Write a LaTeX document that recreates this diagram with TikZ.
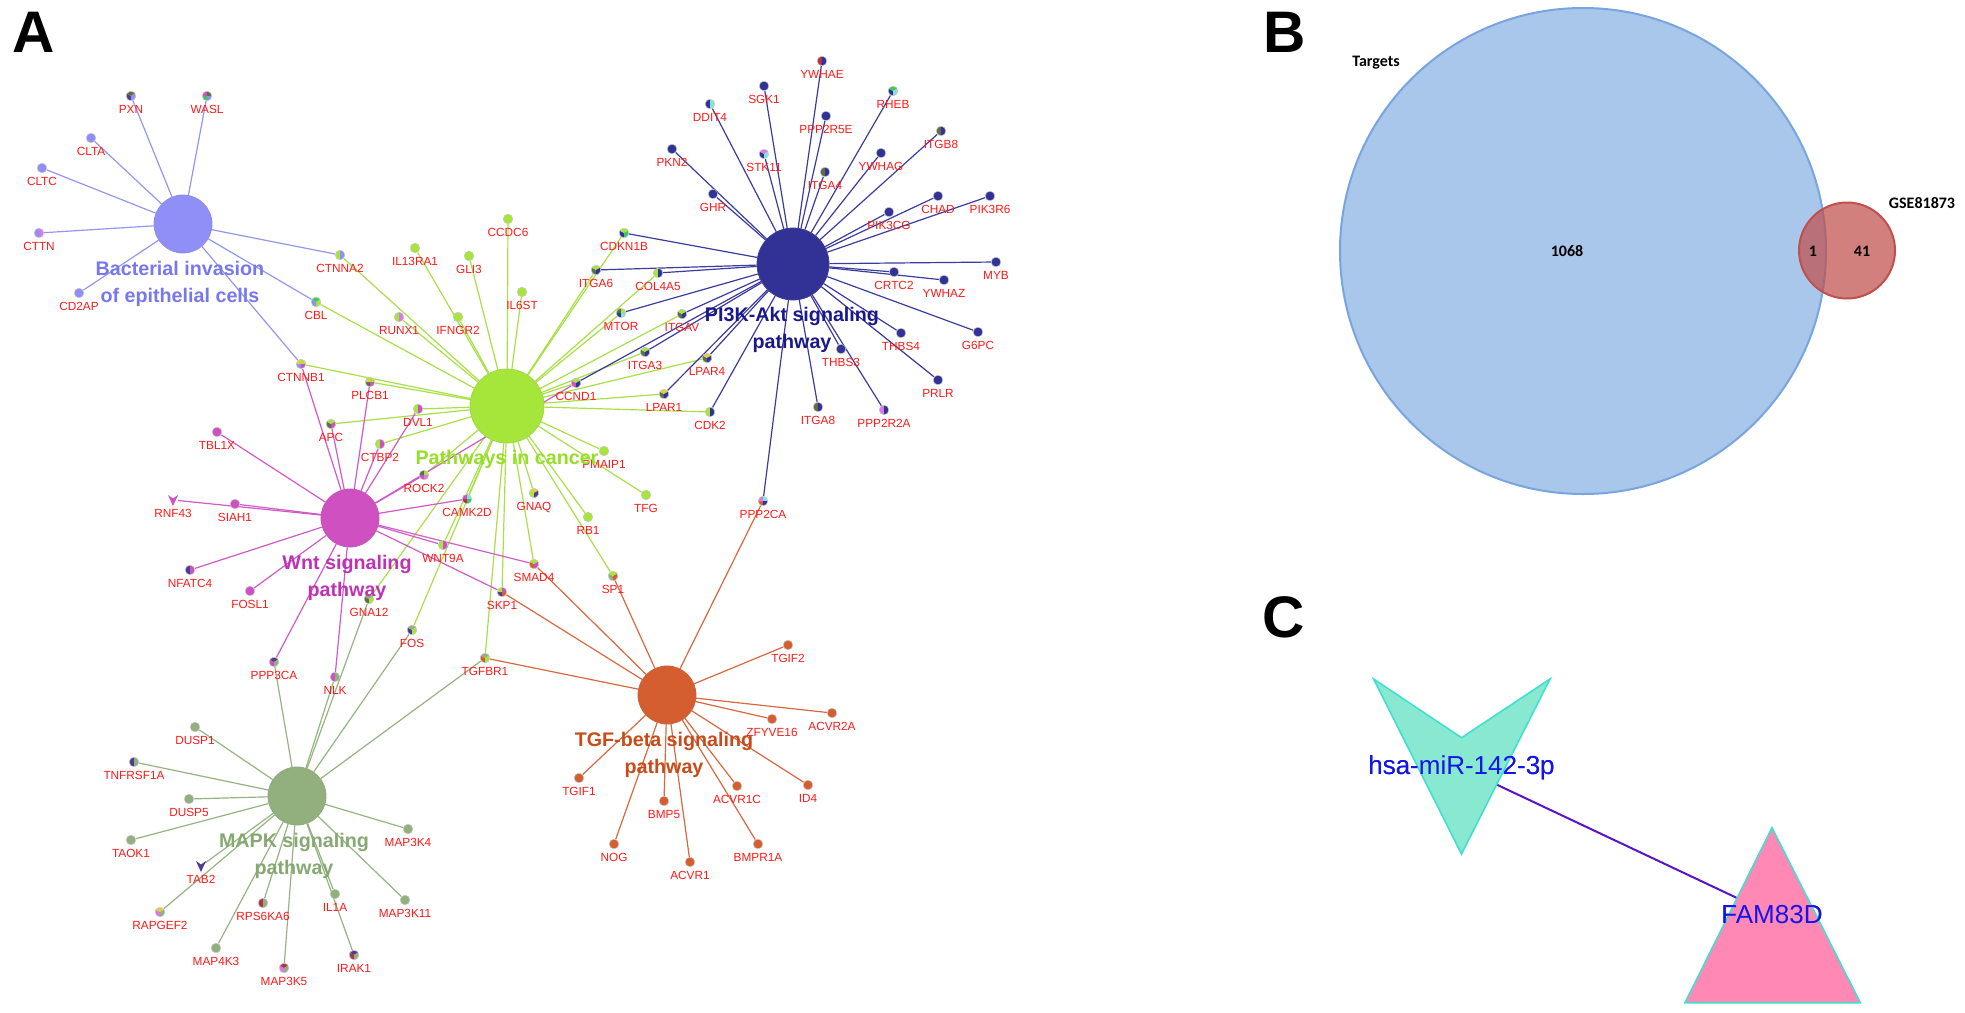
\documentclass[tikz,border=0pt]{standalone}
\usepackage{fontspec}
\setmainfont{Liberation Sans}
\newfontfamily\calfont{Carlito}
\usetikzlibrary{calc}
\pgfdeclarelayer{bg}
\pgfdeclarelayer{edges}
\pgfsetlayers{bg,edges,main}
\definecolor{bactc}{RGB}{143,143,247}
\definecolor{bactl}{RGB}{120,120,238}
\definecolor{bacte}{RGB}{150,150,240}
\definecolor{picc}{RGB}{166,230,58}
\definecolor{picl}{RGB}{150,222,40}
\definecolor{pice}{RGB}{168,224,70}
\definecolor{pikc}{RGB}{50,50,150}
\definecolor{pikl}{RGB}{25,25,140}
\definecolor{pike}{RGB}{60,60,160}
\definecolor{wntc}{RGB}{207,80,192}
\definecolor{wntl}{RGB}{192,50,180}
\definecolor{wnte}{RGB}{208,90,200}
\definecolor{tgfc}{RGB}{213,94,48}
\definecolor{tgfl}{RGB}{200,76,26}
\definecolor{tgfe}{RGB}{216,104,64}
\definecolor{mapkc}{RGB}{146,176,126}
\definecolor{mapkl}{RGB}{134,168,114}
\definecolor{mapke}{RGB}{150,180,130}
\definecolor{dkpur}{RGB}{80,60,140}
\definecolor{olive}{RGB}{95,110,72}
\definecolor{cyanc}{RGB}{128,228,218}
\definecolor{crimson}{RGB}{176,50,74}
\definecolor{yellowc}{RGB}{224,208,64}
\definecolor{bgreen}{RGB}{60,200,90}
\definecolor{orchid}{RGB}{218,120,232}
\definecolor{genered}{RGB}{255,25,25}
\definecolor{vblue}{RGB}{169,198,235}
\definecolor{vbluel}{RGB}{120,165,222}
\definecolor{vred}{RGB}{192,80,77}
\definecolor{mirfill}{RGB}{136,232,208}
\definecolor{turq}{RGB}{64,224,208}
\definecolor{famfill}{RGB}{255,136,180}
\definecolor{lnk}{RGB}{90,20,200}
\definecolor{ctext}{RGB}{20,20,235}
\newcount\gpcnt
\def\gr{4.8}
\newcommand\gpie[2]{%
  \global\gpcnt=0
  \foreach \gx in {#2}{\global\advance\gpcnt by 1}%
  \pgfmathsetmacro\gpstep{360/\the\gpcnt}%
  \foreach \gcol [count=\gi] in {#2}{%
    \pgfmathsetmacro\gpa{90+(\gi-1)*\gpstep}%
    \fill[\gcol] (#1) -- ++(\gpa:\gr) arc[start angle=\gpa, delta angle=\gpstep, radius=\gr] -- cycle;
  }%
  \draw[gray!45, line width=0.25pt] (#1) circle[radius=\gr];
}
\newcommand\gn[3]{%
  \node[gdot] (#1) at (#2) {};
  \gpie{#2}{#3}%
  \path (#2) ++(0,17.7) node[glab] {#1};
}
\newcommand\chev[3]{%
  \node[gdot] (#1) at (#2) {};
  \fill[#3, shift={(#2)}] (-5,-5) -- (0,-1.5) -- (5,-5) -- (0,6) -- cycle;
  \path (#2) ++(0,17.7) node[glab] {#1};
}
\newcommand\hubedges[3]{\foreach \g in {#3}{\draw[#2] (#1) -- (\g);}}
\begin{document}
\begin{tikzpicture}[x=0.5pt,y=-0.5pt,
  gdot/.style={circle, inner sep=0pt, minimum size=4.8pt},
  glab/.style={anchor=base, inner sep=0pt, text=genered, font=\fontsize{5.9}{7}\selectfont},
  hub/.style={circle, inner sep=0pt, line width=0.4pt},
  hlab/.style={anchor=base, inner sep=0pt, font=\bfseries\fontsize{9.85}{11}\selectfont},
  edge/.style={line width=0.6pt},
  panel/.style={anchor=base west, inner sep=0pt, font=\bfseries\fontsize{29.3}{32}\selectfont},
  vlab/.style={inner sep=0pt, font=\calfont\bfseries\fontsize{8}{9}\selectfont},
  clab/.style={inner sep=0pt, text=ctext, font=\fontsize{13}{15}\selectfont}]
\useasboundingbox (0,0) rectangle (1965,1012);
\begin{pgfonlayer}{bg}
\fill[white] (0,0) rectangle (1965,1012);
\end{pgfonlayer}

% panel letters
\node[panel] (lA) at (12,52) {A};
\node[panel] (lB) at (1263,52) {B};
\node[panel] (lC) at (1262,637) {C};

% hubs
\node[hub, fill=bactc, draw=bactc!85!gray, minimum size=29pt] (hB) at (183,224) {};
\node[hub, fill=pikc, draw=pikc!85!gray, minimum size=36pt] (hK) at (793,264) {};
\node[hub, fill=picc, draw=picc!85!gray, minimum size=37pt] (hP) at (507,406) {};
\node[hub, fill=wntc, draw=wntc!85!gray, minimum size=29pt] (hW) at (350,518) {};
\node[hub, fill=tgfc, draw=tgfc!85!gray, minimum size=29pt] (hT) at (667,695) {};
\node[hub, fill=mapkc, draw=mapkc!85!gray, minimum size=29pt] (hM) at (297,796) {};

% bacterial genes
\gn{PXN}{131,96}{dkpur,olive,bactc}
\gn{WASL}{207,96}{bgreen,wntc,olive,bactc}
\gn{CLTA}{91,138}{bactc}
\gn{CLTC}{42,168}{bactc}
\gn{CTTN}{39,233}{bactc,orchid}
\gn{CD2AP}{79,293}{bactc}
\gn{CTNNA2}{340,255}{picc,bactc}
\gn{CBL}{316,302}{bactc,bgreen,picc}
% pathways in cancer genes
\gn{RUNX1}{399,317}{picc,orchid}
\gn{IL13RA1}{415,248}{picc}
\gn{GLI3}{469,256}{picc}
\gn{CCDC6}{508,219}{picc}
\gn{IL6ST}{522,292}{picc}
\gn{IFNGR2}{458,317}{picc}
\gn{CDKN1B}{624,233}{pikc,picc,bgreen}
\gn{ITGA6}{596,270}{olive,picc,pikc}
\gn{COL4A5}{658,273}{picc,pikc}
\gn{MTOR}{621,313}{pikc,olive,picc,cyanc}
\gn{ITGAV}{682,314}{olive,picc,pikc}
\gn{ITGA3}{645,352}{olive,picc,pikc}
\gn{LPAR4}{707,358}{olive,yellowc,pikc}
\gn{CCND1}{576,383}{wntc,picc,pikc}
\gn{LPAR1}{664,394}{olive,yellowc,pikc}
\gn{CDK2}{710,412}{picc,pikc}
\gn{PMAIP1}{604,451}{picc}
\gn{TFG}{646,495}{picc}
\gn{RB1}{588,517}{picc}
\gn{GNAQ}{534,493}{picc,yellowc,dkpur}
\gn{CAMK2D}{467,499}{crimson,wntc,cyanc,bgreen}
\gn{ROCK2}{424,475}{wntc,olive,picc,orchid}
\gn{DVL1}{418,409}{picc,wntc}
\gn{APC}{331,424}{olive,picc,wntc}
\gn{CTBP2}{380,444}{picc,wntc}
\gn{PLCB1}{370,382}{olive,yellowc,picc,wntc}
\gn{CTNNB1}{301,364}{bactc,yellowc,picc,wntc}
\gn{WNT9A}{443,545}{picc,wntc}
\gn{SMAD4}{534,564}{tgfc,picc,wntc}
\gn{SP1}{613,576}{mapkc,picc,tgfc}
\gn{SKP1}{502,592}{dkpur,picc,wntc,tgfc}
\gn{FOS}{412,630}{dkpur,mapkc,picc}
\gn{TGFBR1}{485,658}{tgfc,mapkc,picc}
\gn{GNA12}{369,599}{olive,mapkc,picc}
% PI3K genes
\gn{PKN2}{672,149}{pikc}
\gn{GHR}{713,194}{pikc}
\gn{DDIT4}{710,104}{pikc,cyanc}
\gn{SGK1}{764,86}{pikc}
\gn{STK11}{764,154}{pikc,orchid,cyanc}
\gn{YWHAE}{822,61}{crimson,pikc}
\gn{PPP2R5E}{826,116}{pikc}
\gn{ITGA4}{825,172}{olive,pikc}
\gn{RHEB}{893,91}{pikc,bgreen,cyanc}
\gn{YWHAG}{881,153}{pikc}
\gn{ITGB8}{941,131}{olive,pikc}
\gn{CHAD}{938,196}{pikc}
\gn{PIK3R6}{990,196}{pikc}
\gn{PIK3CG}{889,212}{pikc}
\gn{MYB}{996,262}{pikc}
\gn{CRTC2}{894,272}{pikc}
\gn{YWHAZ}{944,280}{pikc}
\gn{THBS4}{901,333}{pikc}
\gn{G6PC}{978,332}{pikc}
\gn{THBS3}{841,349}{pikc}
\gn{PRLR}{938,380}{pikc}
\gn{ITGA8}{818,407}{olive,pikc}
\gn{PPP2R2A}{884,410}{orchid,pikc}
\gn{PPP2CA}{763,501}{tgfc,orchid,cyanc,pikc}
% Wnt genes
\gn{TBL1X}{217,432}{wntc}
\chev{RNF43}{173,500}{wntc}
\gn{SIAH1}{235,504}{wntc}
\gn{NFATC4}{190,570}{dkpur,wntc}
\gn{FOSL1}{250,591}{wntc}
\gn{PPP3CA}{274,662}{wntc,dkpur,mapkc}
\gn{NLK}{335,677}{wntc,mapkc}
% MAPK genes
\gn{DUSP1}{195,727}{mapkc}
\gn{TNFRSF1A}{134,762}{dkpur,mapkc}
\gn{DUSP5}{189,799}{mapkc}
\gn{TAOK1}{131,840}{mapkc}
\chev{TAB2}{201,866}{dkpur}
\gn{RAPGEF2}{160,912}{orchid,yellowc,mapkc}
\gn{RPS6KA6}{263,903}{crimson,mapkc}
\gn{MAP4K3}{216,948}{mapkc}
\gn{MAP3K5}{284,968}{orchid,crimson,mapkc}
\gn{IL1A}{335,894}{mapkc}
\gn{IRAK1}{354,955}{crimson,dkpur,mapkc}
\gn{MAP3K11}{405,900}{mapkc}
\gn{MAP3K4}{408,829}{mapkc}
% TGF genes
\gn{TGIF2}{788,645}{tgfc}
\gn{ACVR2A}{832,713}{tgfc}
\gn{ZFYVE16}{772,719}{tgfc}
\gn{ID4}{808,785}{tgfc}
\gn{ACVR1C}{737,786}{tgfc}
\gn{BMPR1A}{758,844}{tgfc}
\gn{ACVR1}{690,862}{tgfc}
\gn{BMP5}{664,801}{tgfc}
\gn{NOG}{614,844}{tgfc}
\gn{TGIF1}{579,778}{tgfc}

% hub labels
\node[hlab, text=bactl] (tB1) at (180,275) {Bacterial invasion};
\node[hlab, text=bactl] (tB2) at (180,302) {of epithelial cells};
\node[hlab, text=picl] (tP1) at (507,464) {Pathways in cancer};
\node[hlab, text=pikl] (tK1) at (792,321) {PI3K-Akt signaling};
\node[hlab, text=pikl] (tK2) at (792,348) {pathway};
\node[hlab, text=wntl] (tW1) at (347,569) {Wnt signaling};
\node[hlab, text=wntl] (tW2) at (347,596) {pathway};
\node[hlab, text=tgfl] (tT1) at (664,746) {TGF-beta signaling};
\node[hlab, text=tgfl] (tT2) at (664,773) {pathway};
\node[hlab, text=mapkl] (tM1) at (294,847) {MAPK signaling};
\node[hlab, text=mapkl] (tM2) at (294,874) {pathway};

% edges
\begin{pgfonlayer}{edges}
\hubedges{hB}{edge,bacte}{PXN,WASL,CLTA,CLTC,CTTN,CD2AP,CTNNA2,CBL,CTNNB1}
\hubedges{hP}{edge,pice}{CTNNA2,CBL,RUNX1,IL13RA1,GLI3,CCDC6,IL6ST,IFNGR2,CDKN1B,ITGA6,COL4A5,MTOR,ITGAV,ITGA3,LPAR4,CCND1,LPAR1,CDK2,PMAIP1,TFG,RB1,SP1,SMAD4,GNAQ,SKP1,TGFBR1,FOS,GNA12,CAMK2D,WNT9A,ROCK2,DVL1,CTBP2,APC,PLCB1,CTNNB1}
\hubedges{hK}{edge,pike}{PKN2,GHR,DDIT4,SGK1,STK11,YWHAE,PPP2R5E,ITGA4,RHEB,YWHAG,ITGB8,PIK3CG,CHAD,PIK3R6,MYB,CRTC2,YWHAZ,THBS4,G6PC,PRLR,THBS3,PPP2R2A,ITGA8,CDK2,LPAR1,LPAR4,ITGA3,CCND1,ITGAV,MTOR,COL4A5,ITGA6,CDKN1B,PPP2CA}
\hubedges{hW}{edge,wnte}{CTNNB1,PLCB1,APC,DVL1,CTBP2,TBL1X,SIAH1,RNF43,NFATC4,FOSL1,PPP3CA,NLK,ROCK2,CCND1,CAMK2D,WNT9A,SMAD4,SKP1}
\hubedges{hT}{edge,tgfe}{SMAD4,SKP1,SP1,TGFBR1,PPP2CA,TGIF2,ACVR2A,ZFYVE16,ID4,ACVR1C,BMPR1A,ACVR1,BMP5,NOG,TGIF1}
\hubedges{hM}{edge,mapke}{PPP3CA,NLK,GNA12,FOS,TGFBR1,DUSP1,TNFRSF1A,DUSP5,TAOK1,TAB2,RAPGEF2,MAP4K3,RPS6KA6,MAP3K5,IL1A,IRAK1,MAP3K11,MAP3K4}
\end{pgfonlayer}

% panel B: Venn
\fill[vblue] (1583,251) circle[radius=243];
\draw[vbluel, line width=1pt] (1583,251) circle[radius=243];
\fill[vred, fill opacity=0.72] (1847,250.5) circle[radius=48];
\draw[vred, line width=1pt] (1847,250.5) circle[radius=48];
\node[vlab] (vT) at (1376,63) {Targets};
\node[vlab] (vG) at (1922,203) {GSE81873};
\node[vlab] (v1068) at (1567,251) {1068};
\node[vlab] (v1) at (1813,251) {1};
\node[vlab] (v41) at (1862,251) {41};

% panel C
\node[clab] (mir) at (1461.5,768) {hsa-miR-142-3p};
\node[clab] (fam) at (1772,914.5) {FAM83D};
\begin{pgfonlayer}{edges}
\draw[lnk, line width=1pt] (mir.center) -- (fam.center);
\end{pgfonlayer}
\filldraw[fill=mirfill, draw=turq, line width=0.8pt] (1373.6,679) -- (1461.5,737.7) -- (1550,679) -- (1461.5,854) -- cycle;
\filldraw[fill=famfill, draw=turq, line width=0.8pt] (1772,827.7) -- (1860.3,1002.7) -- (1685,1002.7) -- cycle;
\node[clab] at (mir.center) {hsa-miR-142-3p};
\node[clab] at (fam.center) {FAM83D};
\end{tikzpicture}
\end{document}
